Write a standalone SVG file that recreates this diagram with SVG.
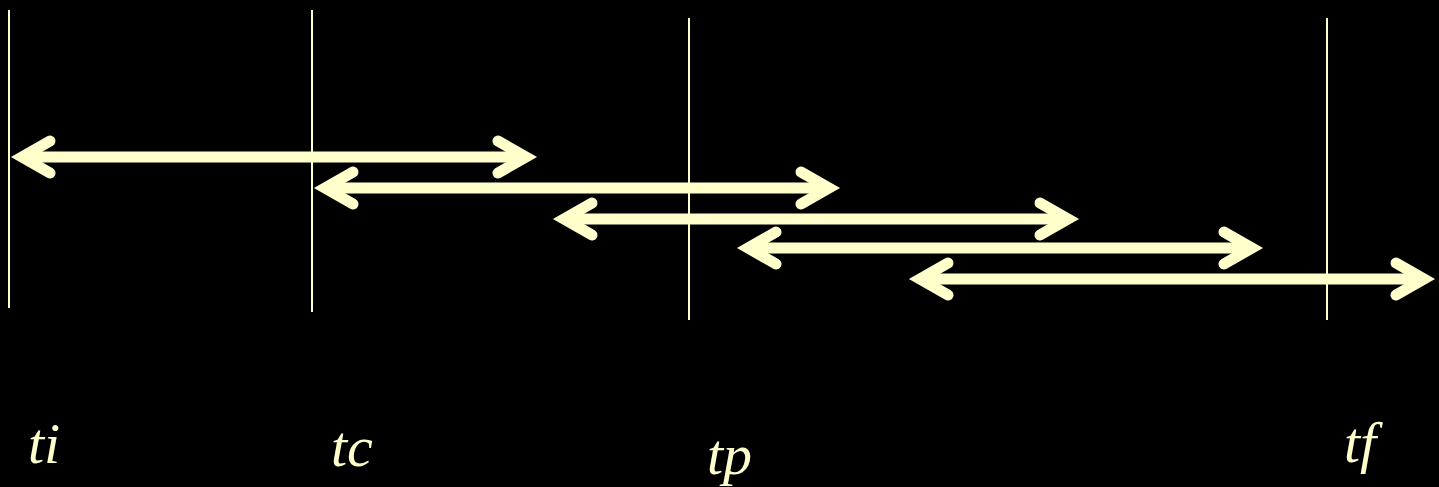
<svg xmlns="http://www.w3.org/2000/svg" width="1439" height="487" viewBox="0 0 1439 487">
<style>
.v{stroke:#FFFFCC;stroke-width:2;fill:none}
.a{stroke:#FFFFCC;stroke-width:11;fill:none;stroke-linecap:round;stroke-linejoin:miter;stroke-miterlimit:4}
.s{stroke:#FFFFCC;stroke-width:11;fill:none}
.t{font-family:"Liberation Serif","Times New Roman",serif;font-style:italic;font-size:58px;fill:#FFFFCC}
</style>
<rect width="1439" height="487" fill="#000"/>
<g id="markers">
<line class="v" x1="9" y1="10" x2="9" y2="308"/>
<line class="v" x1="312" y1="10" x2="312" y2="312"/>
<line class="v" x1="689" y1="18" x2="689" y2="320"/>
<line class="v" x1="1327" y1="18" x2="1327" y2="320"/>
</g>
<g id="connectors">
<g id="arrow1" transform="translate(0,157)">
<line class="s" x1="22" y1="0" x2="526" y2="0"/>
<polyline class="a" points="50,-16 22,0 50,16"/>
<polyline class="a" points="498,-16 526,0 498,16"/>
</g>
<g id="arrow2" transform="translate(303,188)">
<line class="s" x1="22" y1="0" x2="526" y2="0"/>
<polyline class="a" points="50,-16 22,0 50,16"/>
<polyline class="a" points="498,-16 526,0 498,16"/>
</g>
<g id="arrow3" transform="translate(542,219)">
<line class="s" x1="22" y1="0" x2="526" y2="0"/>
<polyline class="a" points="50,-16 22,0 50,16"/>
<polyline class="a" points="498,-16 526,0 498,16"/>
</g>
<g id="arrow4" transform="translate(726,248)">
<line class="s" x1="22" y1="0" x2="526" y2="0"/>
<polyline class="a" points="50,-16 22,0 50,16"/>
<polyline class="a" points="498,-16 526,0 498,16"/>
</g>
<g id="arrow5" transform="translate(898,279)">
<line class="s" x1="22" y1="0" x2="526" y2="0"/>
<polyline class="a" points="50,-16 22,0 50,16"/>
<polyline class="a" points="498,-16 526,0 498,16"/>
</g>
</g>
<g id="label-ti"><text class="t" x="28" y="463">ti</text></g>
<g id="label-tc"><text class="t" x="331" y="466">tc</text></g>
<g id="label-tp"><text class="t" x="707" y="474">tp</text></g>
<g id="label-tf"><text class="t" x="1344" y="462">tf</text></g>
</svg>
